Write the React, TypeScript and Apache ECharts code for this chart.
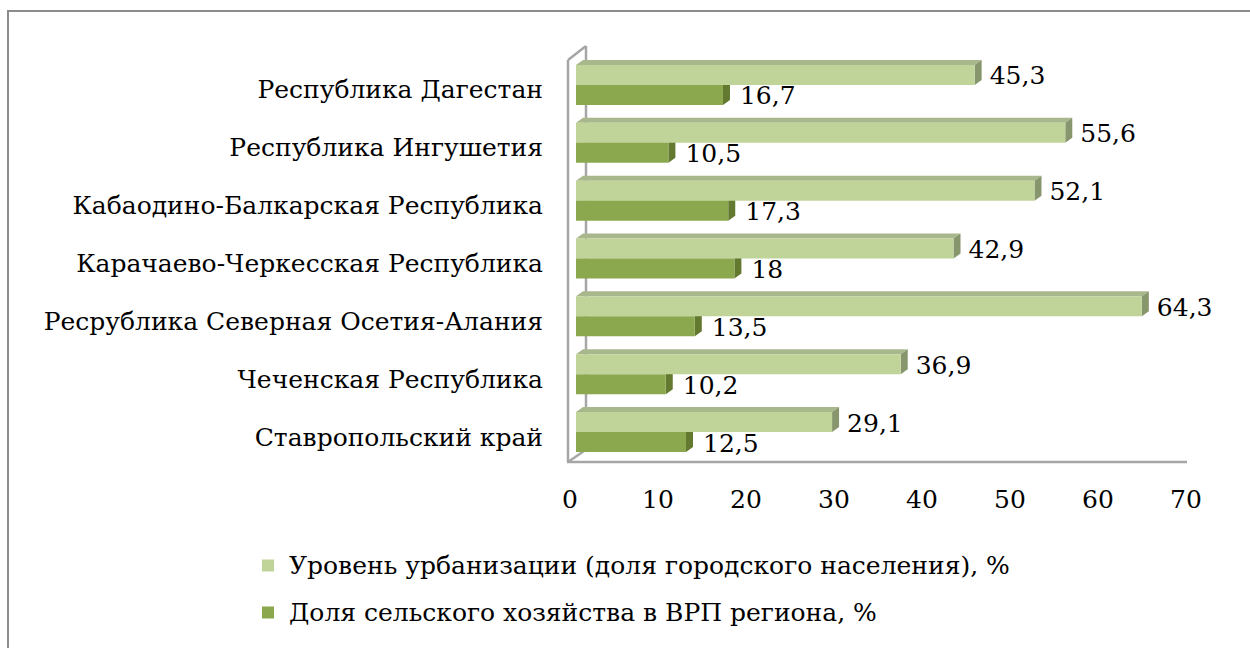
import React, { useEffect, useRef } from "react";
import * as echarts from "echarts";

const categories = [
  "Республика Дагестан",
  "Республика Ингушетия",
  "Кабаодино-Балкарская Республика",
  "Карачаево-Черкесская Республика",
  "Ресрублика Северная Осетия-Алания",
  "Чеченская Республика",
  "Ставропольский край",
];
const urbanization = [45.3, 55.6, 52.1, 42.9, 64.3, 36.9, 29.1];
const agriculture = [16.7, 10.5, 17.3, 18, 13.5, 10.2, 12.5];
const seriesNames = [
  "Уровень урбанизации (доля городского населения), %",
  "Доля сельского хозяйства в ВРП региона, %",
];

const FONT = "DejaVu Serif";
const FS = 25;
const DX = 7;
const DY = 5;
const BH = 20;

const palette = {
  light: { front: "#c0d399", top: "#a9b88c", side: "#87966c" },
  dark: { front: "#8ba84f", top: "#74903e", side: "#62792f" },
};

function fmt(v: number) {
  return String(v).replace(".", ",");
}

function makeRender(kind: "light" | "dark") {
  const c = palette[kind];
  return (params: any, api: any) => {
    const v = api.value(0);
    const i = api.value(1);
    const p0 = api.coord([0, i]);
    const p1 = api.coord([v, i]);
    const x0 = p0[0];
    const x1 = p1[0];
    const yc = p0[1];
    const y0 = kind === "light" ? yc - BH : yc;
    const y1 = y0 + BH;
    return {
      type: "group",
      children: [
        {
          type: "polygon",
          shape: { points: [[x0, y0], [x1, y0], [x1 + DX, y0 - DY], [x0 + DX, y0 - DY]] },
          style: { fill: c.top },
        },
        {
          type: "polygon",
          shape: { points: [[x1, y0], [x1 + DX, y0 - DY], [x1 + DX, y1 - DY], [x1, y1]] },
          style: { fill: c.side },
        },
        {
          type: "rect",
          shape: { x: x0, y: y0, width: x1 - x0, height: BH },
          style: { fill: c.front },
        },
        {
          type: "text",
          style: {
            text: fmt(v),
            x: x1 + (kind === "light" ? 15 : 17),
            y: (y0 + y1) / 2 + 1,
            fill: "#000",
            fontSize: FS,
            fontFamily: FONT,
            align: "left",
            verticalAlign: "middle",
          },
        },
      ],
    };
  };
}

export default function App() {
  const ref = useRef<HTMLDivElement>(null);
  useEffect(() => {
    if (!ref.current) return;
    const chart = echarts.init(ref.current, null, { renderer: "svg" });
    const wall = { stroke: "#a6a6a6", lineWidth: 2.5 };
    chart.setOption({
      animation: false,
      backgroundColor: "#fff",
      textStyle: { fontFamily: FONT },
      grid: { left: 576, top: 56, width: 616, height: 405, containLabel: false },
      xAxis: {
        type: "value",
        min: 0,
        max: 70,
        interval: 10,
        axisLine: { show: false },
        axisTick: { show: false },
        splitLine: { show: false },
        axisLabel: {
          fontSize: FS,
          fontFamily: FONT,
          color: "#000",
          margin: 26,
          padding: [0, 12, 0, 0],
        },
      },
      yAxis: {
        type: "category",
        inverse: true,
        data: categories,
        axisLine: { show: false },
        axisTick: { show: false },
        splitLine: { show: false },
        axisLabel: {
          color: "#000",
          margin: 33,
          formatter: (v: string) => "{a|" + v + "}",
          rich: {
            a: {
              fontSize: FS,
              fontFamily: FONT,
              color: "#000",
              padding: [10, 0, 0, 0],
            },
          },
        },
      },
      legend: {
        orient: "vertical",
        left: 257,
        top: 548,
        itemWidth: 12,
        itemHeight: 12,
        itemGap: 22,
        icon: "rect",
        data: seriesNames,
        textStyle: {
          fontSize: FS,
          fontFamily: FONT,
          color: "#000",
          padding: [0, 0, 0, 10],
        },
      },
      graphic: [
        { type: "rect", z: 0, shape: { x: 8, y: 11, width: 1260, height: 700 }, style: { fill: "none", stroke: "#8c8c8c", lineWidth: 2 } },
        { type: "line", z: 0, shape: { x1: 568, y1: 60, x2: 568, y2: 462 }, style: wall },
        { type: "line", z: 0, shape: { x1: 568, y1: 60, x2: 586, y2: 46 }, style: wall },
        { type: "line", z: 0, shape: { x1: 586, y1: 46, x2: 586, y2: 451 }, style: wall },
        { type: "line", z: 0, shape: { x1: 567, y1: 462, x2: 1187, y2: 462 }, style: wall },
        { type: "line", z: 0, shape: { x1: 568, y1: 462, x2: 584, y2: 451 }, style: wall },
      ],
      series: [
        {
          name: seriesNames[0],
          type: "custom",
          z: 4,
          itemStyle: { color: palette.light.front },
          encode: { x: 0, y: 1 },
          data: urbanization.map((v, i) => [v, i]),
          renderItem: makeRender("light"),
        },
        {
          name: seriesNames[1],
          type: "custom",
          z: 3,
          itemStyle: { color: palette.dark.front },
          encode: { x: 0, y: 1 },
          data: agriculture.map((v, i) => [v, i]),
          renderItem: makeRender("dark"),
        },
      ],
    });
    return () => chart.dispose();
  }, []);
  return (
    <div
      ref={ref}
      style={{ position: "fixed", left: 0, top: 0, width: 1250, height: 648 }}
    />
  );
}
